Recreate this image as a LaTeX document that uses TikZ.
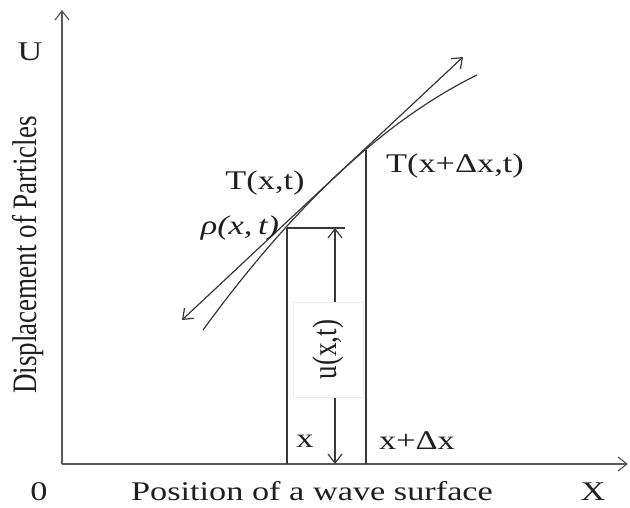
\documentclass[tikz,border=0pt]{standalone}
\usepackage{fontspec}
\setmainfont{Liberation Serif}
\usetikzlibrary{arrows.meta}
\newcommand{\wide}[1]{\scalebox{1.27}[1]{#1}}
\newcommand{\tall}[1]{\scalebox{1}[1.27]{#1}}
\begin{document}
\begin{tikzpicture}[x=1pt,y=-1pt,
  ln/.style={line width=1.2pt, draw=black!78},
  axisln/.style={line width=1.6pt, draw=black!65},
  tip/.style={-{Straight Barb[length=9pt,width=14pt,line width=1.2pt]}},
  dtip/.style={{Straight Barb[length=9pt,width=14pt,line width=1.2pt]}-{Straight Barb[length=9pt,width=14pt,line width=1.2pt]}},
  lbl/.style={inner sep=0pt, text=black!88, font=\fontsize{27}{30}\selectfont},
]
\useasboundingbox (0,0) rectangle (630,508);
% coordinates
\coordinate (O) at (62,464);
\coordinate (Ytip) at (62,10);
\coordinate (Xtip) at (628,464);
\coordinate (A) at (287,228);
\coordinate (A0) at (287,464);
\coordinate (B) at (366,150);
\coordinate (B0) at (366,464);
\coordinate (H) at (345,228);
\coordinate (Utop) at (335,228);
\coordinate (Ubot) at (335,464);
\coordinate (T1) at (182,320);
\coordinate (T2) at (463,57);
\coordinate (C1) at (203,330);
\coordinate (Ca) at (294.3,204.7);
\coordinate (Cb) at (385.7,119.7);
\coordinate (C2) at (477,75);
% axes
\draw[axisln, tip] (O) -- (Ytip);
\draw[axisln, tip] (O) -- (Xtip);
% verticals and top line
\draw[ln] (A) -- (A0);
\draw[ln] (B) -- (B0);
\draw[ln] (A) -- (H);
\draw[ln, dtip] (Utop) -- (Ubot);
% tangent and curve
\draw[ln, dtip] (T1) -- (T2);
\draw[ln] (C1) .. controls (Ca) and (Cb) .. (C2);
% u(x,t) box
\node[draw=black!8, line width=0.6pt, fill=white, minimum width=70pt, minimum height=95pt, inner sep=0pt] (ubox) at (328,349.5) {};
\node[lbl, rotate=90] (ulab) at (ubox.center) {\tall{u(x,t)}};
% labels
\node[lbl] (Txt) at (265,183) {\wide{T(x,t)}};
\node[lbl] (rho) at (240,228) {\wide{\itshape ρ(x,\,t)}};
\node[lbl] (Tdx) at (455,166) {\wide{T(x+Δx,t)}};
\node[lbl] (xl) at (305,441) {\wide{x}};
\node[lbl] (xdx) at (417,441) {\wide{x+Δx}};
\node[lbl, anchor=base] (zero) at (39,500) {\wide{0}};
\node[lbl, anchor=base] (pos) at (312,500) {\wide{Position of a wave surface}};
\node[lbl, anchor=base] (Xl) at (593,500) {\wide{X}};
\node[lbl] (Ul) at (30,52) {\wide{U}};
\node[lbl, rotate=90, anchor=base] (disp) at (36,255) {\tall{Displacement of Particles}};
\end{tikzpicture}
\end{document}
